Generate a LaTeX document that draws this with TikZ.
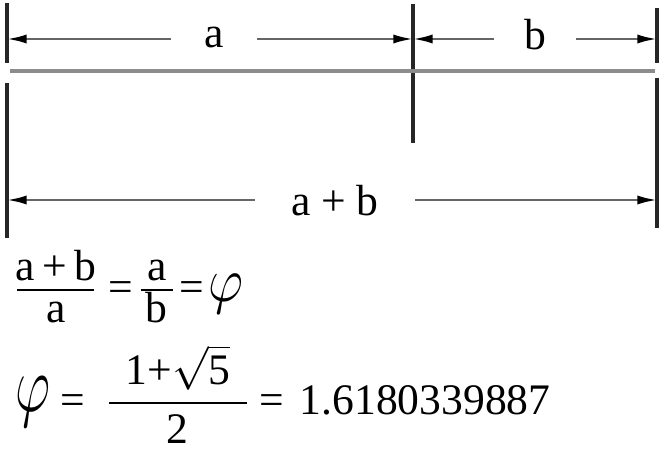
\RequirePackage{fix-cm}
\documentclass[tikz,border=0pt]{standalone}
\usepackage{amsmath}
\usepackage{amssymb}
\usepackage{graphicx}
\usepackage{fontspec}
\setmainfont{Liberation Serif}
\usetikzlibrary{arrows.meta}

\newcommand{\bigphi}[2]{\raisebox{#2}{\scalebox{1.25}[#1]{$\varphi$}}}
\newcommand{\eq}{\mbox{=}}

\begin{document}
\begin{tikzpicture}[x=0.025cm, y=-0.025cm, >={Latex[length=14pt,width=6.5pt,color=black]}, semithick]
                \tikzstyle{tick}=[line width=2.2pt, draw=black!85]
                \tikzstyle{dim}=[->, line width=1.7pt, draw=black!60]
                \tikzstyle{lbl}=[inner sep=0pt, font=\fontsize{31}{36}\selectfont]
                \useasboundingbox (0,0) rectangle (666,453);

                % ends of the dimension lines
                \coordinate (aL) at (7,39);
                \coordinate (aR) at (413,39);
                \coordinate (bL) at (413,39);
                \coordinate (bR) at (657,39);
                \coordinate (sL) at (7,200);
                \coordinate (sR) at (657,200);

                % the ticks
                \draw[tick] (7,3) -- (7,63);
                \draw[tick] (413,4) -- (413,143);
                \draw[tick] (657,8) -- (657,63);
                \draw[tick] (7,83) -- (7,238);
                \draw[tick] (657,78) -- (657,228);
                \draw[line width=2.6pt, draw=black!45] (10,71) -- (655,71);

                \node[lbl, minimum width=2.15cm]    (A) at (214,37)   {a};
                \node[lbl, minimum width=2.03cm]    (B) at (535,35)   {b};
                \node[lbl, minimum width=4cm]       (S) at (335,201)  {a + b};

                \draw[dim] (A.west |- aL) -- (aL);
                \draw[dim] (A.east |- aR) -- (aR);
                \draw[dim] (B.west |- bL) -- (bL);
                \draw[dim] (B.east |- bR) -- (bR);
                \draw[dim] (S.west |- sL) -- (sL);
                \draw[dim] (S.east |- sR) -- (sR);

                % a+b over a, a over b
                \node[lbl, anchor=base west]    (F1) at (15,301)
                    {$\frac{\makebox[55pt]{a\,+\,b}\rule[-5pt]{0pt}{5pt}}{\rule{0pt}{21pt}\mbox{a}}\hspace{9pt}\eq\hspace{4pt}\frac{\makebox[23pt]{a}\rule[-5pt]{0pt}{5pt}}{\rule{0pt}{21pt}\mbox{b}}\hspace{3.5pt}\eq\hspace{3pt}\bigphi{1.45}{0pt}$};
                % the golden number
                \node[lbl, anchor=base west]    (F2) at (15,414)
                    {$\bigphi{1.85}{2pt}\hspace{7pt}\eq\hspace{16pt}\dfrac{\makebox[98pt]{$\mbox{1+}\sqrt{\mbox{5}}$}}{\mbox{2}}\hspace{8pt}\eq\hspace{11pt}\mbox{1.6180339887}$};
            \end{tikzpicture}
\end{document}
